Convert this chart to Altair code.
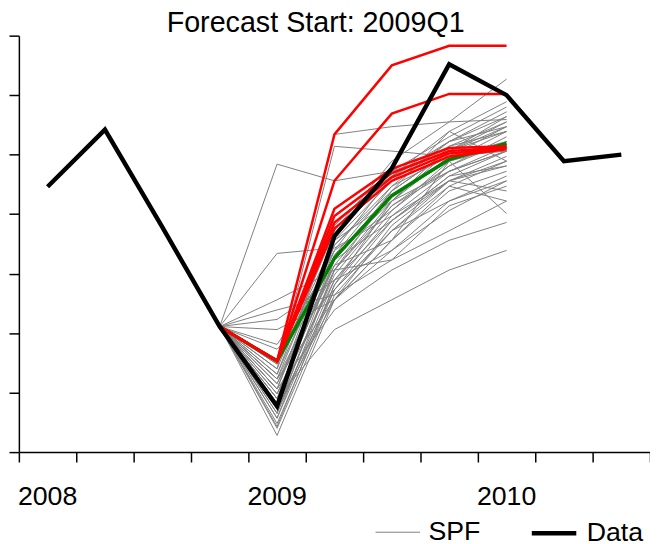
import altair as alt
import pandas as pd

# Quarters on the x axis (index 0 = 2008Q1)
quarters = ["2008Q1", "2008Q2", "2008Q3", "2008Q4", "2009Q1", "2009Q2",
            "2009Q3", "2009Q4", "2010Q1", "2010Q2", "2010Q3"]
year_labels = ["2008", "2009", "2010"]

# Realised data (thick black)
data_values = [4.46, 5.42, 3.78, 2.11, 0.77, 3.63, 4.77, 6.52, 6.00, 4.89, 5.00]

# Forecast horizon: 2008Q4 .. 2010Q1
forecast_quarters = ["2008Q4", "2009Q1", "2009Q2", "2009Q3", "2009Q4", "2010Q1"]

# Individual SPF forecasts (thin grey)
spf_forecasts = [
    [2.11, 4.84, 4.56, 4.72, 5.06, 5.39],
    [2.11, 1.40, 3.72, 4.89, 5.55, 6.27],
    [2.11, 1.06, 3.39, 4.64, 5.39, 5.89],
    [2.11, 1.23, 3.56, 4.56, 5.22, 5.72],
    [2.11, 0.90, 3.23, 4.39, 5.06, 5.55],
    [2.11, 0.73, 3.06, 4.22, 4.97, 5.47],
    [2.11, 1.15, 3.31, 4.47, 5.22, 5.64],
    [2.11, 0.98, 3.14, 4.31, 4.89, 5.39],
    [2.11, 0.82, 2.98, 4.14, 4.81, 5.30],
    [2.11, 0.65, 2.89, 4.06, 4.81, 5.22],
    [2.11, 0.57, 2.81, 3.97, 4.72, 5.14],
    [2.11, 0.48, 2.73, 3.89, 4.64, 5.06],
    [2.11, 0.28, 2.56, 3.81, 4.56, 4.97],
    [2.11, 0.40, 2.64, 3.72, 4.47, 4.89],
    [2.11, 1.31, 3.48, 4.39, 5.06, 5.47],
    [2.11, 1.48, 3.56, 4.22, 4.72, 5.06],
    [2.11, 1.56, 3.39, 4.06, 4.89, 5.22],
    [2.11, 1.81, 3.23, 3.89, 4.64, 4.81],
    [2.11, 2.06, 2.56, 3.56, 4.39, 4.72],
    [2.11, 2.23, 2.89, 3.39, 4.22, 4.56],
    [2.11, 2.56, 3.06, 3.23, 3.72, 4.22],
    [2.11, 1.06, 2.39, 3.06, 3.56, 3.86],
    [2.11, 0.90, 2.06, 2.56, 3.06, 3.39],
    [2.11, 1.23, 2.56, 3.56, 4.89, 4.01],
    [2.11, 0.73, 2.73, 3.72, 4.22, 4.64],
    [2.11, 0.98, 2.89, 3.89, 4.56, 4.39],
    [2.11, 1.15, 3.06, 4.39, 5.39, 4.89],
    [2.11, 0.82, 3.31, 4.22, 5.06, 5.64],
    [2.11, 1.31, 3.81, 4.72, 5.30, 5.80],
    [2.11, 1.06, 3.64, 4.64, 5.14, 5.39],
    [2.11, 0.90, 3.48, 4.47, 4.97, 5.22],
    [2.11, 0.65, 3.23, 4.31, 4.89, 5.14],
    [2.11, 0.57, 3.06, 4.14, 4.72, 5.06],
    [2.11, 1.48, 5.34, 5.47, 5.55, 5.59],
    [2.11, 1.40, 5.14, 5.06, 4.97, 5.06],
    [2.11, 1.23, 3.14, 3.56, 4.47, 4.22],
    [2.11, 0.73, 2.56, 3.39, 4.06, 4.56],
    [2.11, 0.43, 2.81, 4.22, 5.14, 5.55],
    [2.11, 1.73, 2.73, 3.72, 4.56, 4.81],
    [2.11, 1.56, 3.97, 4.64, 5.22, 5.47],
    [2.11, 3.34, 3.43, 3.97, 4.56, 4.89],
    [2.11, 2.39, 2.64, 3.23, 4.14, 4.47],
]

# Highlighted forecasts (red)
red_forecasts = [
    [2.11, 1.53, 5.34, 6.50, 6.83, 6.83],
    [2.11, 1.53, 4.56, 5.69, 6.02, 6.02],
    [2.11, 1.53, 4.09, 4.76, 5.11, 5.14],
    [2.11, 1.53, 3.97, 4.69, 5.06, 5.12],
    [2.11, 1.53, 3.86, 4.62, 5.02, 5.11],
    [2.11, 1.53, 3.76, 4.56, 4.97, 5.09],
]

# Mean forecast (green)
mean_forecast = [2.11, 1.53, 3.26, 4.31, 4.92, 5.19]

title_text = "Forecast Start: 2009Q1"
legend_names = ["SPF", "Data"]

qidx = {q: i for i, q in enumerate(quarters)}

data_df = pd.DataFrame({"q": [qidx[q] for q in quarters], "v": data_values,
                        "series": "Data", "id": "data"})
spf_rows = []
for k, row in enumerate(spf_forecasts):
    for q, v in zip(forecast_quarters, row):
        spf_rows.append({"q": qidx[q], "v": v, "series": "SPF", "id": f"s{k}"})
spf_df = pd.DataFrame(spf_rows)
red_rows = []
for k, row in enumerate(red_forecasts):
    for q, v in zip(forecast_quarters, row):
        red_rows.append({"q": qidx[q], "v": v, "id": f"r{k}"})
red_df = pd.DataFrame(red_rows)
mean_df = pd.DataFrame({"q": [qidx[q] for q in forecast_quarters], "v": mean_forecast})
year_df = pd.DataFrame({"q": [qidx[y + "Q1"] for y in year_labels], "label": year_labels})

FONT = "Liberation Sans"
n = len(quarters)
tick_vals = [i - 0.5 for i in range(n + 1)]

x_enc = alt.X("q:Q", scale=alt.Scale(domain=[-0.5, n - 0.5], nice=False, zero=False),
              axis=alt.Axis(values=tick_vals, labels=False,
                            tickSize=10, tickColor="black", tickWidth=1.5,
                            domainColor="black", domainWidth=1.5,
                            grid=False, title=None))
y_enc = alt.Y("v:Q", scale=alt.Scale(domain=[0, 7], nice=False, zero=False),
              axis=alt.Axis(values=list(range(8)), labels=False, tickSize=10,
                            tickColor="black", tickWidth=1.5, domainColor="black",
                            domainWidth=1.5, grid=False, title=None))

color_enc = alt.Color("series:N", scale=alt.Scale(domain=legend_names, range=["#808080", "black"]),
                      legend=alt.Legend(title=None, orient="none", legendX=360, legendY=478,
                                        direction="horizontal", symbolType="stroke",
                                        symbolSize=2025, labelFont=FONT, labelFontSize=27,
                                        labelColor="black", labelOffset=8, columnPadding=42,
                                        padding=0))
sw_enc = alt.StrokeWidth("series:N", scale=alt.Scale(domain=legend_names, range=[1, 4.5]),
                         legend=alt.Legend(title=None))

gray = alt.Chart(spf_df).mark_line().encode(x=x_enc, y=y_enc, detail="id:N",
                                             color=color_enc, strokeWidth=sw_enc)
green = alt.Chart(mean_df).mark_line(color="#008000", strokeWidth=3.5).encode(x="q:Q", y="v:Q")
red = alt.Chart(red_df).mark_line(color="#ff0000", strokeWidth=2.5).encode(x="q:Q", y="v:Q", detail="id:N")
black = alt.Chart(data_df).mark_line().encode(x="q:Q", y="v:Q", color=color_enc, strokeWidth=sw_enc)
years = alt.Chart(year_df).mark_text(font=FONT, fontSize=27, color="black",
                                     baseline="alphabetic", align="center").encode(
    x="q:Q", y=alt.value(474), text="label:N")

chart = alt.layer(gray, green, red, black, years).properties(
    width=638, height=421,
    title=alt.TitleParams(title_text, font=FONT, fontSize=29, fontWeight="normal",
                          color="black", dx=-19, dy=5, offset=2),
    autosize=alt.AutoSizeParams(type="none"),
    padding={"left": 11, "top": 25, "right": 0, "bottom": 95},
).configure_view(stroke=None)

chart.save("out.html", embed_options={"renderer": "svg", "actions": False})
